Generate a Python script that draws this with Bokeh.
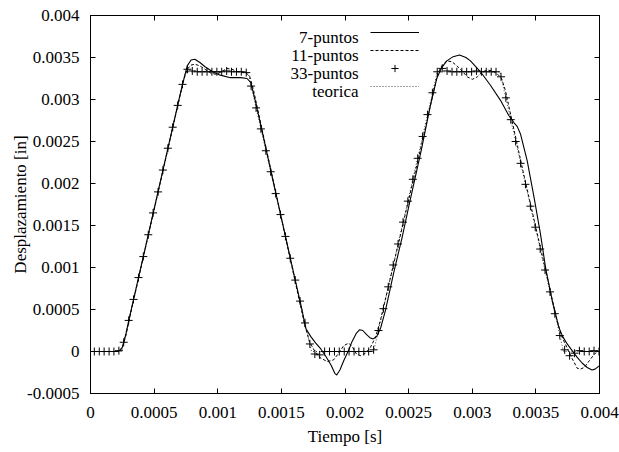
from bokeh.plotting import figure
from bokeh.models import ColumnDataSource, FixedTicker, LinearAxis, Range1d, Legend, LegendItem, Label
from bokeh.embed import file_html
from bokeh.resources import INLINE

# ---------------- data ----------------
x_ticks = [0, 0.0005, 0.001, 0.0015, 0.002, 0.0025, 0.003, 0.0035, 0.004]
x_tick_labels = ["0", "0.0005", "0.001", "0.0015", "0.002", "0.0025", "0.003", "0.0035", "0.004"]
y_ticks = [-0.0005, 0, 0.0005, 0.001, 0.0015, 0.002, 0.0025, 0.003, 0.0035, 0.004]
y_tick_labels = ["-0.0005", "0", "0.0005", "0.001", "0.0015", "0.002", "0.0025", "0.003", "0.0035", "0.004"]

# teorica
t_teo = [0.0, 0.000245, 0.000745, 0.001237, 0.001737, 0.002225, 0.002725, 0.003217, 0.003717, 0.004]
y_teo = [0.0, 0.0, 0.00333, 0.00333, 0.0, 0.0, 0.00333, 0.00333, 0.0, 0.0]

# 7-puntos
t_7 = [0.0, 0.00022, 0.00025, 0.00028, 0.00031, 0.0007, 0.00073, 0.00076, 0.00079, 0.00082,
       0.00086, 0.0009, 0.00096, 0.00102, 0.0011, 0.00118, 0.00123, 0.00126, 0.0013, 0.0016,
       0.00166, 0.00169, 0.00173, 0.00177, 0.00181, 0.00185, 0.00189, 0.00192, 0.001935, 0.00196,
       0.00199, 0.00203, 0.002056, 0.00209, 0.002116, 0.00214, 0.00217, 0.0022, 0.00222, 0.00225,
       0.00228, 0.002318, 0.002383, 0.002449, 0.0025, 0.0026, 0.00267, 0.002721, 0.00276, 0.0028,
       0.00285, 0.0029, 0.00295, 0.002986, 0.003065, 0.003143, 0.003222, 0.003287, 0.00333, 0.003353,
       0.003379, 0.003432, 0.00349, 0.003536, 0.003576, 0.003628, 0.00368, 0.00371, 0.003746, 0.003785,
       0.003825, 0.003865, 0.003903, 0.003942, 0.003965, 0.00399, 0.004]
y_7 = [0.0, 0.0, 0.00005, 0.00022, 0.00043, 0.00303, 0.00322, 0.0034, 0.00347, 0.00348,
       0.00344, 0.00339, 0.00333, 0.00329, 0.00326, 0.00326, 0.00325, 0.0032, 0.00295, 0.00091,
       0.00051, 0.00028, 0.00018, 0.0001, 0.00003, -0.00006, -0.00016, -0.00026, -0.00028, -0.00022,
       -0.00011, 0.00002, 0.00012, 0.00022, 0.00026, 0.00025, 0.0002, 0.00016, 0.00015, 0.00018,
       0.00028, 0.00049, 0.00094, 0.00136, 0.00172, 0.0024, 0.00292, 0.00325, 0.00338, 0.00346,
       0.00351, 0.00353, 0.0035, 0.00346, 0.00333, 0.00317, 0.00299, 0.00281, 0.00272, 0.00268,
       0.00259, 0.00227, 0.0018, 0.0014, 0.001, 0.00061, 0.00029, 0.00018, 0.00009, 0.00001,
       -0.00007, -0.00014, -0.00019, -0.00022, -0.00021, -0.00018, -0.00017]

# 11-puntos
t_11 = [0.0, 0.00022, 0.00025, 0.00028, 0.00031, 0.0007, 0.00073, 0.00076, 0.00079, 0.00082,
        0.00086, 0.0009, 0.00095, 0.00099, 0.00103, 0.00107, 0.00111, 0.00116, 0.00122, 0.00125,
        0.00128, 0.0016, 0.00168, 0.00172, 0.00176, 0.0018, 0.00186, 0.00191, 0.00195, 0.00199,
        0.00203, 0.00206, 0.00209, 0.00212, 0.00216, 0.0022, 0.00224, 0.00228, 0.0026, 0.0027,
        0.00273, 0.00276, 0.0028, 0.00284, 0.00288, 0.00292, 0.00296, 0.003, 0.00304, 0.00308,
        0.00312, 0.00316, 0.0032, 0.00323, 0.00326, 0.0034, 0.0036, 0.00366, 0.0037, 0.003746,
        0.00378, 0.003825, 0.00385, 0.00388, 0.00392, 0.00396, 0.004]
y_11 = [0.0, 0.0, 0.00004, 0.0002, 0.00042, 0.00302, 0.00322, 0.00336, 0.00341, 0.00342,
        0.0034, 0.00336, 0.00331, 0.0033, 0.00333, 0.00337, 0.00336, 0.00333, 0.00332, 0.00328,
        0.00312, 0.00089, 0.00034, 0.00012, 0.00001, -0.00007, -0.00012, -0.0001, -0.00002, 0.00007,
        0.0001, 0.00005, -0.00003, -0.00005, -0.00002, 0.00005, 0.00017, 0.00038, 0.00245, 0.00312,
        0.00331, 0.0034, 0.00346, 0.00345, 0.0034, 0.00334, 0.00327, 0.00324, 0.00327, 0.00333,
        0.00335, 0.00334, 0.0033, 0.00325, 0.00311, 0.00214, 0.00081, 0.00041, 0.00019, 0.00004,
        -0.00007, -0.0002, -0.00021, -0.00019, -0.00011, -0.00003, 0.00001]

# 33-puntos (markers)
t_33 = [0.000030, 0.000069, 0.000107, 0.000146, 0.000184, 0.000223, 0.000261, 0.000300, 0.000338, 0.000377,
        0.000415, 0.000454, 0.000492, 0.000531, 0.000569, 0.000608, 0.000646, 0.000685, 0.000723, 0.000762,
        0.000800, 0.000839, 0.000877, 0.000916, 0.000954, 0.000993, 0.001031, 0.001070, 0.001108, 0.001147,
        0.001185, 0.001224, 0.001262, 0.001301, 0.001339, 0.001378, 0.001416, 0.001455, 0.001493, 0.001532,
        0.001570, 0.001609, 0.001647, 0.001686, 0.001724, 0.001763, 0.001801, 0.001840, 0.001878, 0.001917,
        0.001955, 0.001994, 0.002032, 0.002071, 0.002109, 0.002148, 0.002186, 0.002225, 0.002263, 0.002302,
        0.002340, 0.002379, 0.002417, 0.002456, 0.002494, 0.002533, 0.002571, 0.002610, 0.002648, 0.002687,
        0.002725, 0.002764, 0.002802, 0.002841, 0.002879, 0.002918, 0.002956, 0.002995, 0.003033, 0.003072,
        0.003110, 0.003149, 0.003187, 0.003226, 0.003264, 0.003303, 0.003341, 0.003380, 0.003418, 0.003457,
        0.003495, 0.003534, 0.003572, 0.003611, 0.003649, 0.003688, 0.003726, 0.003765, 0.003803, 0.003842,
        0.003880, 0.003919, 0.003957, 0.003996]
y_33 = [0.0, 0.0, 0.0, 0.0, 0.0, 0.00001, 0.00011, 0.00037, 0.00062, 0.00088,
        0.00113, 0.00139, 0.00165, 0.0019, 0.00216, 0.00242, 0.00267, 0.00293, 0.00318, 0.00336,
        0.00334, 0.00333, 0.00333, 0.00333, 0.00333, 0.00333, 0.00333, 0.00334, 0.00333, 0.00333,
        0.00333, 0.00332, 0.00316, 0.0029, 0.00265, 0.00239, 0.00214, 0.00188, 0.00163, 0.00137,
        0.00111, 0.00085, 0.0006, 0.00034, 0.00009, -0.00003, -0.00004, 0.0, 0.0, 0.0,
        0.0, 0.0, 0.0, 0.0, 0.0, 0.0, 0.0, 0.00002, 0.00025, 0.00051,
        0.00077, 0.00103, 0.00128, 0.00154, 0.00179, 0.00205, 0.0023, 0.00256, 0.00282, 0.00308,
        0.00333, 0.00337, 0.00334, 0.00333, 0.00333, 0.00333, 0.00333, 0.00333, 0.00334, 0.00333,
        0.00333, 0.00333, 0.00333, 0.00327, 0.00302, 0.00276, 0.0025, 0.00224, 0.00199, 0.00173,
        0.00148, 0.00122, 0.00097, 0.00071, 0.00045, 0.00019, 0.00002, -0.00005, -0.00002, 0.00001,
        0.0, 0.0, 0.00001, 0.0]

series_labels = ["7-puntos", "11-puntos", "33-puntos", "teorica"]

# ---------------- figure ----------------
FONT = "Liberation Serif"

p = figure(width=619, height=452,
           x_range=Range1d(0, 0.004), y_range=Range1d(-0.0005, 0.004),
           output_backend="svg", toolbar_location=None,
           min_border_left=90, min_border_right=20, min_border_top=15, min_border_bottom=59)
p.grid.visible = False
p.outline_line_color = "black"
p.outline_line_width = 1
p.background_fill_color = "white"
p.border_fill_color = "white"


def style_axis(ax, ticks, labels, show):
    ax.ticker = FixedTicker(ticks=ticks)
    if show:
        ax.major_label_overrides = dict(zip(ticks, labels))
    else:
        ax.major_label_overrides = {t: "" for t in ticks}
    ax.major_tick_in = 5
    ax.major_tick_out = 0
    ax.minor_tick_in = 0
    ax.minor_tick_out = 0
    ax.axis_line_color = "black"
    ax.major_tick_line_color = "black"
    ax.major_label_text_font = FONT
    ax.major_label_text_font_size = "17px" if show else "0px"
    ax.major_label_text_color = "black"
    ax.axis_label_text_font = FONT
    ax.axis_label_text_font_size = "17px"
    ax.axis_label_text_font_style = "normal"
    ax.axis_label_text_color = "black"


xa = p.xaxis[0]
ya = p.yaxis[0]
style_axis(xa, x_ticks, x_tick_labels, True)
style_axis(ya, y_ticks, y_tick_labels, True)
xa.axis_label = "Tiempo [s]"
xa.major_label_standoff = 13
xa.axis_label_standoff = 6
ya.axis_label = "Desplazamiento [in]"
ya.major_label_standoff = 11
ya.axis_label_standoff = -6

xt = LinearAxis()
style_axis(xt, x_ticks, x_tick_labels, False)
xt.major_label_standoff = 0
p.add_layout(xt, "above")
yr = LinearAxis()
style_axis(yr, y_ticks, y_tick_labels, False)
yr.major_label_standoff = 0
p.add_layout(yr, "right")

src_teo = ColumnDataSource(dict(t=t_teo, y=y_teo))
src_7 = ColumnDataSource(dict(t=t_7, y=y_7))
src_11 = ColumnDataSource(dict(t=t_11, y=y_11))
src_33 = ColumnDataSource(dict(t=t_33, y=y_33))

r_teo = p.line("t", "y", source=src_teo, line_color="#444444", line_width=1, line_dash="1 2")
r_11 = p.line("t", "y", source=src_11, line_color="black", line_width=1, line_dash="3 2")
r_7 = p.line("t", "y", source=src_7, line_color="black", line_width=1.1)
r_33 = p.scatter("t", "y", source=src_33, marker="cross", size=8, line_color="black", line_width=1)

# legend samples (gnuplot style: text on the left, sample on the right)
legend = Legend(items=[LegendItem(label=" ", renderers=[r_7]),
                       LegendItem(label=" ", renderers=[r_11]),
                       LegendItem(label=" ", renderers=[r_33]),
                       LegendItem(label=" ", renderers=[r_teo])],
                location=(280, 298))
legend.padding = 0
legend.margin = 0
legend.spacing = 0
legend.border_line_color = None
legend.background_fill_alpha = 0
legend.glyph_width = 49
legend.glyph_height = 18
legend.label_height = 18
legend.label_width = 1
legend.label_standoff = 0
legend.label_text_font = FONT
legend.label_text_font_size = "8px"
p.add_layout(legend, "center")

legend_text_x = 268
legend_text_y = [356, 338, 320, 302]
for lbl, ly in zip(series_labels, legend_text_y):
    p.add_layout(Label(x=legend_text_x, y=ly, x_units="screen", y_units="screen", text=lbl,
                       text_align="right", text_baseline="alphabetic",
                       text_font=FONT, text_font_size="17px", text_color="black"))

open("out.html", "w").write(file_html(p, INLINE))
